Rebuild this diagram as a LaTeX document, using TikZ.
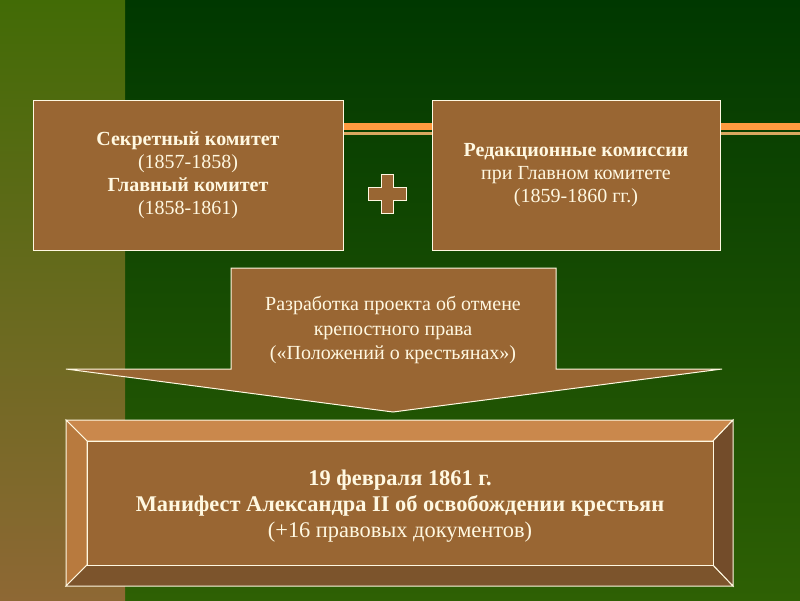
\documentclass[tikz,border=0pt]{standalone}
\usepackage{fontspec}
\setmainfont{Liberation Serif}
\usepackage{xcolor}
\usetikzlibrary{positioning}

\definecolor{bark}{RGB}{153,102,51}
\definecolor{cream}{RGB}{255,248,225}
\definecolor{sash}{RGB}{255,154,64}
\definecolor{sand}{RGB}{217,168,96}
\definecolor{bevtop}{RGB}{202,136,76}
\definecolor{bevleft}{RGB}{184,122,62}
\definecolor{bevbot}{RGB}{124,84,44}
\definecolor{bevright}{RGB}{115,76,42}

\tikzset{
  panel/.style={draw=cream, line width=1pt, fill=bark, text=cream, align=center,
    inner sep=0pt, font=\fontsize{20}{23}\selectfont},
  bevel/.style={draw=cream, line width=1pt, line join=miter}
}

\begin{document}
\begin{tikzpicture}[x=1pt,y=-1pt]
  \useasboundingbox (0,0) rectangle (800,600);
  % background
  \shade[top color={rgb,255:red,0;green,56;blue,0}, bottom color={rgb,255:red,46;green,96;blue,4}]
    (125,0) rectangle (800,600);
  \shade[top color={rgb,255:red,66;green,107;blue,6}, bottom color={rgb,255:red,142;green,104;blue,52},
    middle color={rgb,255:red,104;green,106;blue,30}] (0,0) rectangle (125,600);
  \fill[sash] (125,123) rectangle (800,130);
  \fill[sand] (125,132) rectangle (800,135);

  % committees
  \node[panel, minimum width=310pt, minimum height=150pt] (secret) at (188,175)
    {\textbf{Секретный комитет}\\(1857-1858)\\\textbf{Главный комитет}\\(1858-1861)};
  \node[panel, minimum width=288pt, minimum height=150pt] (edit) at (576,175)
    {\textbf{Редакционные комиссии}\\при Главном комитете\\(1859-1860 гг.)};
  \coordinate (plus) at (387,193.5);
  \draw[cream, line width=1pt, fill=bark] (plus) ++(-6,-19.5) -- ++(12,0) -- ++(0,13) -- ++(13,0)
    -- ++(0,13) -- ++(-13,0) -- ++(0,13.5) -- ++(-12,0) -- ++(0,-13.5) -- ++(-13,0) -- ++(0,-13)
    -- ++(13,0) -- cycle;

  % draft arrow
  \draw[cream, line width=1pt, fill=bark] (231,268) -- (556,268) -- (556,369) -- (722,369)
    -- (393,412) -- (66,369) -- (231,369) -- cycle;
  \node[text=cream, align=center, font=\fontsize{20}{24.5}\selectfont] (draft) at (393,330)
    {Разработка проекта об отмене\\крепостного права\\(«Положений о крестьянах»)};

  % manifest
  \coordinate (onw) at (66,420);
  \coordinate (ose) at (733,586);
  \fill[bevtop, bevel] (onw) -- (ose |- onw) -- (713,441) -- (87,441) -- cycle;
  \fill[bevleft, bevel] (onw) -- (87,441) -- (87,565) -- (onw |- ose) -- cycle;
  \fill[bevbot, bevel] (onw |- ose) -- (87,565) -- (713,565) -- (ose) -- cycle;
  \fill[bevright, bevel] (ose |- onw) -- (ose) -- (713,565) -- (713,441) -- cycle;
  \node[panel, minimum width=626pt, minimum height=124pt, font=\fontsize{22.4}{26}\selectfont]
    (manifest) at (400,503) {};
  \node[text=cream, align=center, inner sep=0pt, font=\fontsize{22.4}{26}\selectfont]
    (decree) at (400,506)
    {\textbf{19 февраля 1861 г.}\\\textbf{Манифест Александра II об освобождении крестьян}\\(+16 правовых документов)};
\end{tikzpicture}
\end{document}
